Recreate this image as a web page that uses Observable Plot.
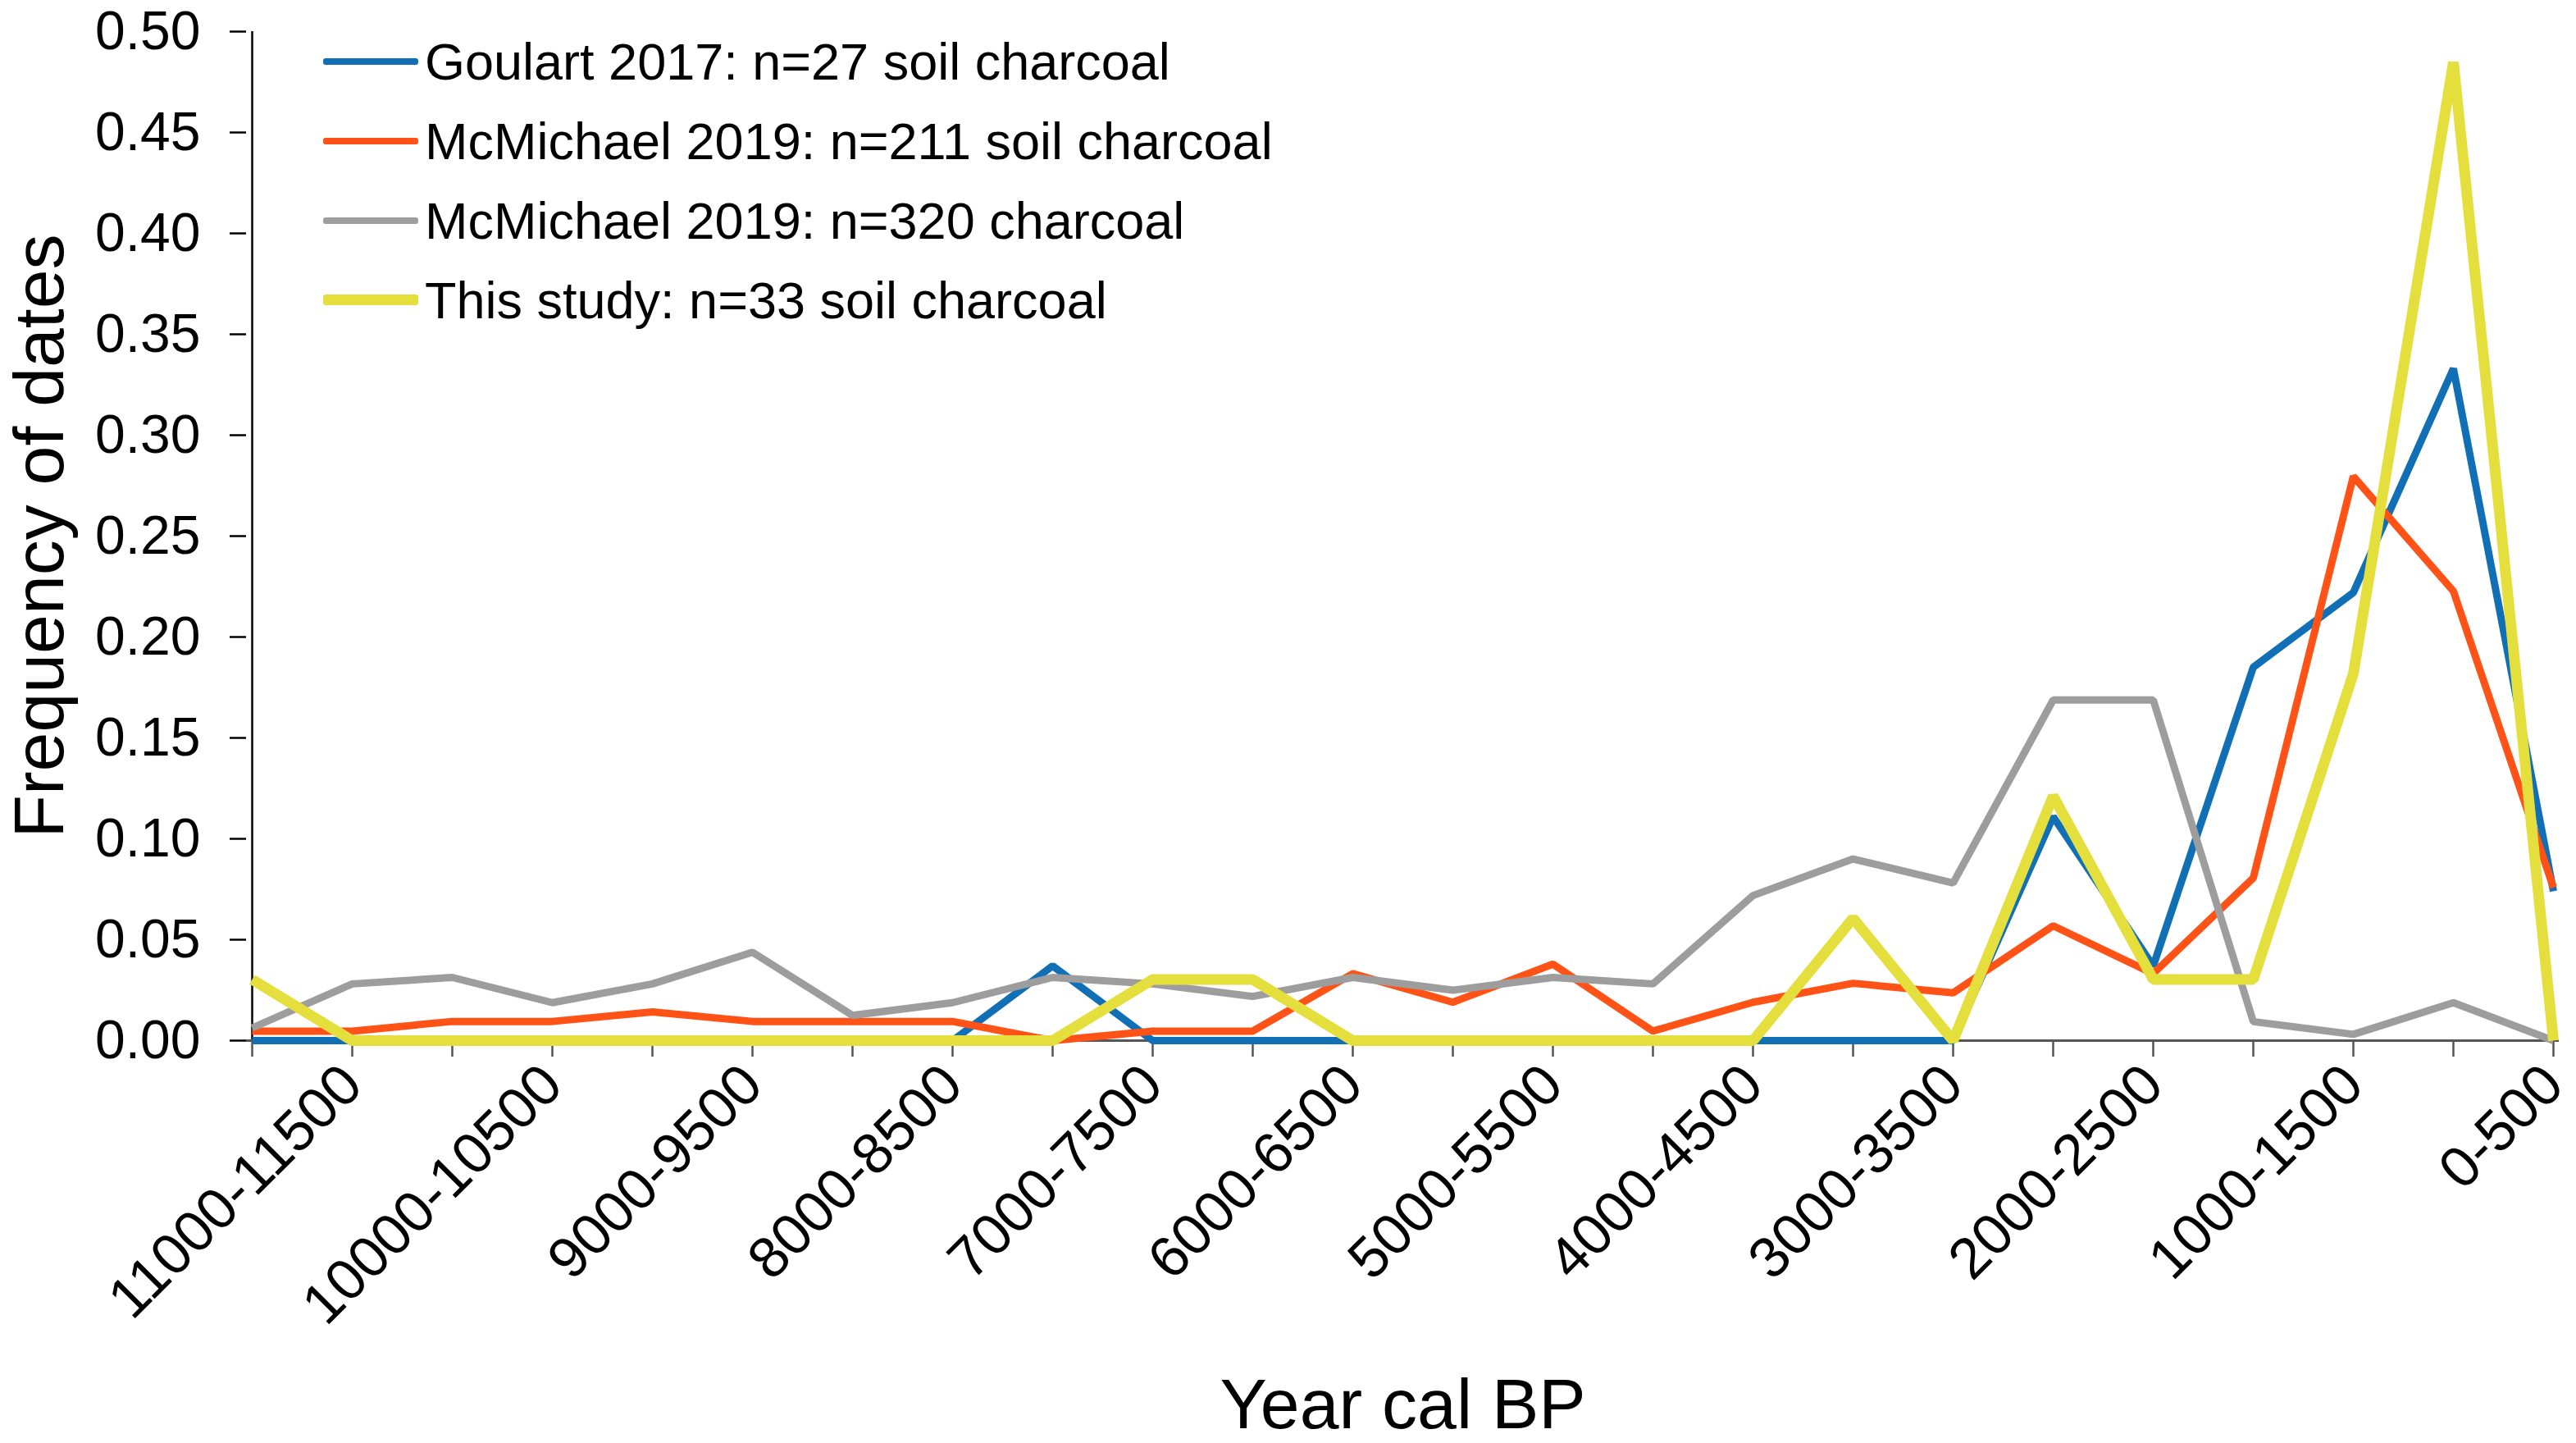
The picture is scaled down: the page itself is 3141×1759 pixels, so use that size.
<!DOCTYPE html>
<html>
<head>
<meta charset="utf-8">
<script src="https://cdn.jsdelivr.net/npm/d3@7"></script>
<script src="https://cdn.jsdelivr.net/npm/@observablehq/plot@0.6"></script>
<style>
  html, body { margin: 0; padding: 0; background: #fff; }
  #wrap { position: relative; width: 3141px; height: 1759px; overflow: hidden; }
  #legend { position: absolute; left: 394px; top: 26px; font-family: 'Liberation Sans', Arial, sans-serif; font-size: 63px; color: #000; }
  .row { display: flex; align-items: center; height: 97px; white-space: nowrap; }
  .sw { width: 116px; margin-right: 8px; border-radius: 3px; }
</style>
</head>
<body>
<div id="wrap"><div id="legend"></div></div>
<script>
// Categories (Year cal BP bins), oldest to youngest
const categories = ["11500-12000","11000-11500","10500-11000","10000-10500","9500-10000","9000-9500",
  "8500-9000","8000-8500","7500-8000","7000-7500","6500-7000","6000-6500","5500-6000","5000-5500",
  "4500-5000","4000-4500","3500-4000","3000-3500","2500-3000","2000-2500","1500-2000","1000-1500",
  "500-1000","0-500"];
// Categories that carry a tick label
const labelledCategories = ["11000-11500","10000-10500","9000-9500","8000-8500","7000-7500","6000-6500",
  "5000-5500","4000-4500","3000-3500","2000-2500","1000-1500","0-500"];
const yTicks = [0,0.05,0.10,0.15,0.20,0.25,0.30,0.35,0.40,0.45,0.50];

// Series values (frequency of dates)
const goulart2017 = [0,0,0,0,0,0,0,0,0.037,0,0,0,0,0,0,0,0,0,0.111,0.037,0.185,0.222,0.333,0.074];
const mcmichaelSoil = [0.0047,0.0047,0.0095,0.0095,0.0142,0.0095,0.0095,0.0095,0,0.0047,0.0047,0.0332,
  0.019,0.0379,0.0047,0.019,0.0284,0.0237,0.0569,0.0332,0.0806,0.2796,0.2227,0.0758];
const mcmichaelAll = [0.0063,0.0281,0.0313,0.0188,0.0281,0.0438,0.0125,0.0188,0.0313,0.0281,0.0219,0.0313,
  0.025,0.0313,0.0281,0.0719,0.0900,0.0781,0.1688,0.1688,0.0094,0.0031,0.0188,0];
const thisStudy = [0.0303,0,0,0,0,0,0,0,0,0.0303,0.0303,0,0,0,0,0,0.0606,0,0.1212,0.0303,0.0303,0.1818,0.4848,0];

const seriesNames = ["Goulart 2017: n=27 soil charcoal","McMichael 2019: n=211 soil charcoal",
  "McMichael 2019: n=320 charcoal","This study: n=33 soil charcoal"];
const seriesValues = [goulart2017, mcmichaelSoil, mcmichaelAll, thisStudy];
const seriesColors = ["#1170b5","#ff5216","#9d9d9d","#e4df3c"];
const seriesWidths = [9,9,9,13];

const rows = seriesNames.map((name, s) => categories.map((c, i) => ({series: name, cat: c, value: seriesValues[s][i]})));

const font = "'Liberation Sans', Arial, sans-serif";
const plot = Plot.plot({
  width: 3141,
  height: 1759,
  marginLeft: 300,
  marginRight: 21,
  marginTop: 38,
  marginBottom: 491,
  style: {fontFamily: font, fontSize: "64px", color: "#000", background: "#fff"},
  x: {type: "point", domain: categories, padding: 0},
  y: {domain: [0, 0.5]},
  marks: [
    Plot.axisY({ticks: yTicks, tickFormat: d3.format(".2f"), tickSize: 20, tickPadding: 36, label: null, stroke: "#000", strokeWidth: 2.5, fontSize: 66}),
    Plot.axisY({ticks: [], label: "Frequency of dates", labelAnchor: "center", labelOffset: 285, labelArrow: "none", fontSize: 86}),
    Plot.axisX({ticks: categories, tickSize: 20, tickFormat: () => "", label: null, stroke: "#555", strokeWidth: 2.5}),
    Plot.axisX({ticks: labelledCategories, tickSize: 0, tickRotate: -45, tickPadding: 42, dx: 0, label: null, fontSize: 70}),
    Plot.axisX({ticks: [], label: "Year cal BP", labelAnchor: "center", labelOffset: 472, labelArrow: "none", fontSize: 86}),
    Plot.ruleX([categories[0]], {stroke: "#000", strokeWidth: 2.5}),
    Plot.ruleY([0], {stroke: "#555", strokeWidth: 3}),
    ...rows.map((r, s) => Plot.line(r, {x: "cat", y: "value", stroke: seriesColors[s], strokeWidth: seriesWidths[s], strokeLinejoin: "miter", strokeLinecap: "butt"}))
  ]
});
document.getElementById("wrap").prepend(plot);

const legend = document.getElementById("legend");
seriesNames.forEach((name, s) => {
  const row = document.createElement("div");
  row.className = "row";
  const sw = document.createElement("span");
  sw.className = "sw";
  sw.style.background = seriesColors[s];
  sw.style.height = (s === 3 ? 13 : 8) + "px";
  const t = document.createElement("span");
  t.textContent = name;
  row.append(sw, t);
  legend.append(row);
});
</script>
</body>
</html>
